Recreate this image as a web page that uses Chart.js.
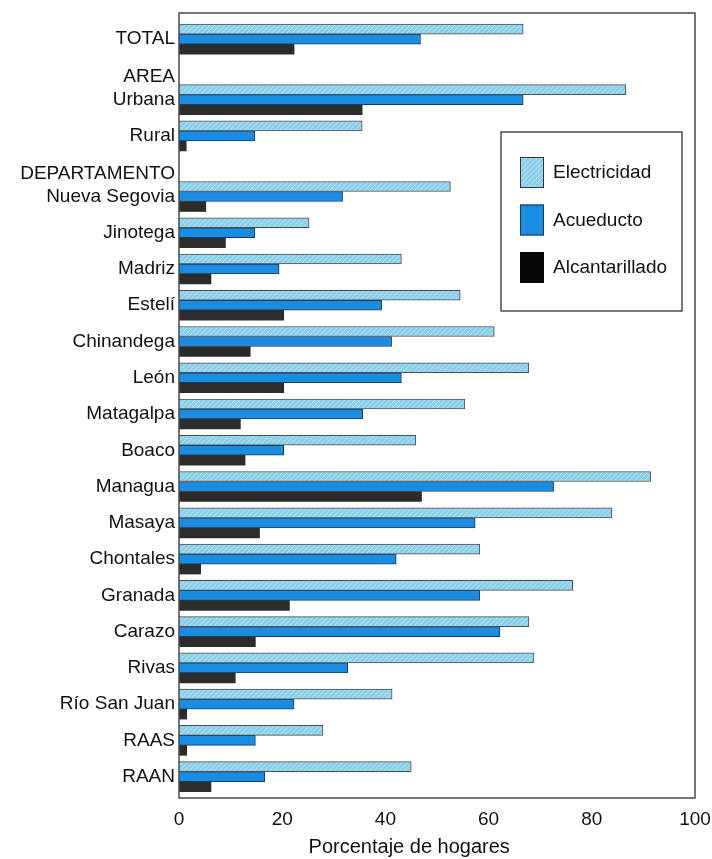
<!DOCTYPE html>
<html>
<head>
<meta charset="utf-8">
<script src="https://cdn.jsdelivr.net/npm/chart.js@4.4.1/dist/chart.umd.min.js"></script>
<style>
  html, body { margin: 0; background: #fff; }
  #wrap { width: 712px; height: 859px; }
</style>
</head>
<body>
<div id="wrap"><canvas id="grafico"></canvas></div>
<script>
const categorias = ["TOTAL", "Urbana", "Rural", "Nueva Segovia", "Jinotega", "Madriz", "Estelí",
  "Chinandega", "León", "Matagalpa", "Boaco", "Managua", "Masaya", "Chontales", "Granada",
  "Carazo", "Rivas", "Río San Juan", "RAAS", "RAAN"];
const electricidad   = [66.7, 86.6, 35.5, 52.6, 25.2, 43.1, 54.5, 61.1, 67.8, 55.4, 45.9, 91.4, 83.9, 58.3, 76.3, 67.8, 68.8, 41.3, 27.9, 45.0];
const acueducto      = [46.8, 66.7, 14.7, 31.7, 14.7, 19.4, 39.3, 41.2, 43.1, 35.6, 20.3, 72.6, 57.4, 42.1, 58.3, 62.2, 32.7, 22.3, 14.8, 16.6];
const alcantarillado = [22.3, 35.5, 1.4, 5.2, 9.0, 6.2, 20.3, 13.8, 20.3, 11.9, 12.8, 47.0, 15.6, 4.2, 21.4, 14.8, 10.9, 1.5, 1.5, 6.2];
const encabezados = ["AREA", "DEPARTAMENTO"];
const encabezadoAntesDe = ["Urbana", "Nueva Segovia"];
const ticksX = [0, 20, 40, 60, 80, 100];

const FUENTE = '"Liberation Sans", Arial, Helvetica, sans-serif';
Chart.defaults.font.family = FUENTE;
Chart.defaults.font.size = 19;
Chart.defaults.color = "#111";

// filas en un eje lineal: los encabezados abren un hueco extra
const SALTO = 0.67, SUBIR = 0.62;
const posiciones = [], ticksY = [], textosY = [];
let p = 0;
categorias.forEach(c => {
  const h = encabezadoAntesDe.indexOf(c);
  if (h >= 0) {
    p += SALTO;
    ticksY.push(p - SUBIR);
    textosY.push(encabezados[h]);
  }
  posiciones.push(p);
  ticksY.push(p);
  textosY.push(c);
  p += 1;
});

// rayado de la serie Electricidad
function rayado() {
  const c = document.createElement("canvas");
  c.width = 5; c.height = 5;
  const g = c.getContext("2d");
  g.fillStyle = "#8ccfea";
  g.fillRect(0, 0, 5, 5);
  g.strokeStyle = "#b4e2f4";
  g.lineWidth = 1;
  g.beginPath();
  g.moveTo(-1, 6); g.lineTo(6, -1);
  g.moveTo(-1, 1); g.lineTo(1, -1);
  g.moveTo(4, 6); g.lineTo(6, 4);
  g.stroke();
  return g.createPattern(c, "repeat");
}
const patronElec = rayado();

const puntos = vals => vals.map((v, i) => ({ x: v, y: posiciones[i] }));

const marco = {
  id: "marco",
  afterDatasetsDraw(chart) {
    const { ctx, chartArea: a } = chart;
    ctx.save();
    ctx.strokeStyle = "#4a4a4a";
    ctx.lineWidth = 1.5;
    ctx.strokeRect(a.left, a.top, a.right - a.left, a.bottom - a.top);
    ctx.restore();
  }
};

const leyenda = {
  id: "leyenda",
  afterDraw(chart) {
    const ctx = chart.ctx;
    ctx.save();
    ctx.fillStyle = "#fff";
    ctx.fillRect(501, 132, 181, 179);
    ctx.strokeStyle = "#222";
    ctx.lineWidth = 1.2;
    ctx.strokeRect(501, 132, 181, 179);
    const items = [
      { t: "Electricidad", f: patronElec, b: "#333" },
      { t: "Acueducto", f: "#1a8de2", b: "#1c3550" },
      { t: "Alcantarillado", f: "#080808", b: "#080808" }
    ];
    ctx.font = "19px " + FUENTE;
    ctx.textBaseline = "middle";
    items.forEach((it, i) => {
      const y = 157 + i * 47.5;
      ctx.fillStyle = it.f;
      ctx.fillRect(520, y, 24, 31);
      ctx.strokeStyle = it.b;
      ctx.lineWidth = 1;
      ctx.strokeRect(520.5, y + 0.5, 23, 30);
      ctx.fillStyle = "#111";
      ctx.fillText(it.t, 553, y + 16);
    });
    ctx.restore();
  }
};

new Chart(document.getElementById("grafico"), {
  type: "bar",
  data: {
    datasets: [
      { label: "Electricidad", data: puntos(electricidad), backgroundColor: patronElec,
        borderColor: "#4d4d4d", borderWidth: 1 },
      { label: "Acueducto", data: puntos(acueducto), backgroundColor: "#1a8de2",
        borderColor: "#1c3a5a", borderWidth: 1 },
      { label: "Alcantarillado", data: puntos(alcantarillado), backgroundColor: "#2c2c2c",
        borderColor: "#2c2c2c", borderWidth: 0 }
    ]
  },
  options: {
    indexAxis: "y",
    responsive: true,
    maintainAspectRatio: false,
    animation: false,
    barThickness: 10,
    layout: { padding: { top: 13, right: 17, left: 0, bottom: 0 } },
    scales: {
      x: {
        type: "linear",
        min: 0, max: 100,
        grid: { display: false, drawTicks: false },
        border: { display: false },
        afterBuildTicks: s => { s.ticks = ticksX.map(v => ({ value: v })); },
        afterFit: s => { s.height = 61; s.paddingLeft = 0; s.paddingRight = 0; },
        ticks: { padding: 10, color: "#111", maxRotation: 0 },
        // los espacios finales corren el titulo a la izquierda como en el original
        title: { display: true, text: "Porcentaje de hogares          ", font: { size: 20 },
          padding: { top: 0, bottom: 0 }, color: "#111" }
      },
      y: {
        type: "linear",
        reverse: true,
        offset: false,
        min: -0.72, max: posiciones[posiciones.length - 1] + 0.59,
        grid: { display: false, drawTicks: false },
        border: { display: false },
        afterBuildTicks: s => { s.ticks = ticksY.map(v => ({ value: v })); },
        afterFit: s => { s.width = 179; s.paddingTop = 0; s.paddingBottom = 0; },
        ticks: { padding: 4, autoSkip: false, color: "#111", callback: (v, i) => textosY[i] }
      }
    },
    plugins: {
      legend: { display: false },
      tooltip: { enabled: false }
    }
  },
  plugins: [marco, leyenda]
});
</script>
</body>
</html>
